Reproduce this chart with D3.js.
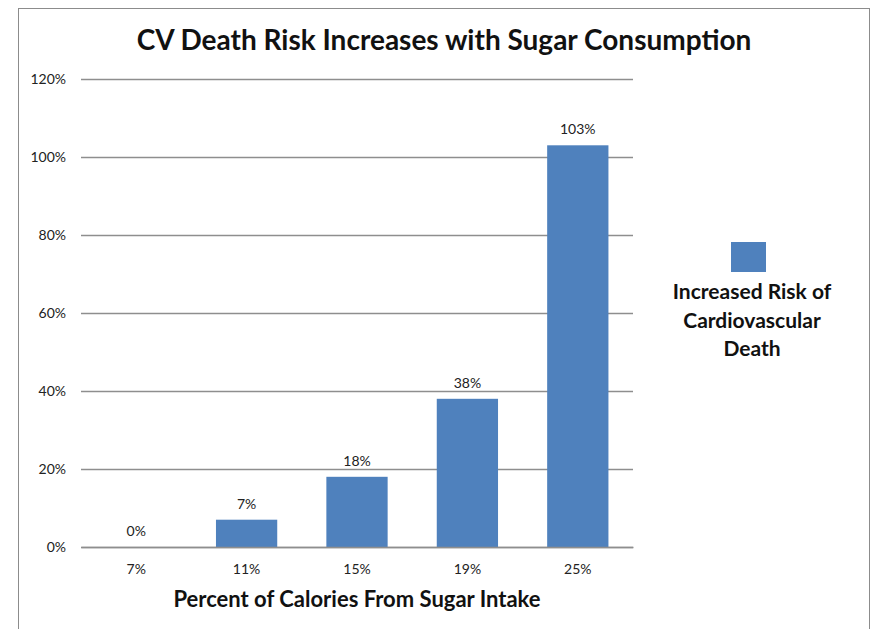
<!DOCTYPE html>
<html><head><meta charset="utf-8">
<script src="https://cdn.jsdelivr.net/npm/d3@7"></script>
<style>
html,body{margin:0;padding:0;background:#fff;}
svg{display:block;}
text{font-family:"Lato","Open Sans",sans-serif;}
</style></head>
<body>
<svg id="chart" width="876" height="629"></svg>
<script>
const categories = ["7%","11%","15%","19%","25%"];
const values = [0, 7, 18, 38, 103];
const yTicks = [0, 20, 40, 60, 80, 100, 120];
const seriesName = ["Increased Risk of","Cardiovascular","Death"];
const title = "CV Death Risk Increases with Sugar Consumption";
const xTitle = "Percent of Calories From Sugar Intake";

(function(){
const svg = d3.select("#chart");
svg.append("rect").attr("x",18.5).attr("y",8.5).attr("width",851).attr("height",640)
  .attr("fill","#fff").attr("stroke","#8c8c8c").attr("stroke-width",1);

const pLeft = 81, pRight = 633, pTop = 79, pBottom = 547;
const x = d3.scaleBand().domain(categories).range([pLeft,pRight]).paddingInner(0.445).paddingOuter(0.2225);
const y = d3.scaleLinear().domain([0,120]).range([pBottom,pTop]);

const yAxis = d3.axisLeft(y).tickValues(yTicks).tickSize(-(pRight-pLeft)).tickFormat(d=>d+"%").tickPadding(15);
const gy = svg.append("g").attr("transform",`translate(${pLeft},0)`).call(yAxis);
gy.select(".domain").remove();
gy.selectAll(".tick line").attr("stroke","#8e8e8e").attr("stroke-width",1.5);
gy.selectAll(".tick text").attr("font-size",14).attr("fill","#222");

svg.selectAll("rect.bar").data(values).join("rect").attr("class","bar")
  .attr("x",(d,i)=>x(categories[i])).attr("width",x.bandwidth())
  .attr("y",d=>y(d)).attr("height",d=>pBottom-y(d)).attr("fill","#4f81bd");

svg.selectAll("text.val").data(values).join("text").attr("class","val")
  .attr("x",(d,i)=>x(categories[i])+x.bandwidth()/2).attr("y",d=>y(d)-11)
  .attr("text-anchor","middle").attr("font-size",14).attr("fill","#222").text(d=>d+"%");

const xAxis = d3.axisBottom(x).tickSize(0).tickPadding(17);
const gx = svg.append("g").attr("transform",`translate(0,${pBottom})`).call(xAxis);
gx.select(".domain").attr("stroke","#8e8e8e").attr("stroke-width",1.5);
gx.selectAll(".tick text").attr("font-size",14).attr("fill","#222");

svg.append("text").attr("x",444).attr("y",50).attr("text-anchor","middle")
  .attr("font-size",28).attr("font-weight","bold").attr("fill","#111").text(title);
svg.append("text").attr("x",357).attr("y",607).attr("text-anchor","middle")
  .attr("font-size",22).attr("font-weight","bold").attr("fill","#111").text(xTitle);

svg.append("rect").attr("x",731).attr("y",242).attr("width",35).attr("height",30).attr("fill","#4f81bd");
svg.selectAll("text.leg").data(seriesName).join("text").attr("class","leg")
  .attr("x",752).attr("y",(d,i)=>299+i*28.5).attr("text-anchor","middle")
  .attr("font-size",21).attr("font-weight","bold").attr("fill","#111").text(d=>d);
})();
</script>
</body></html>
